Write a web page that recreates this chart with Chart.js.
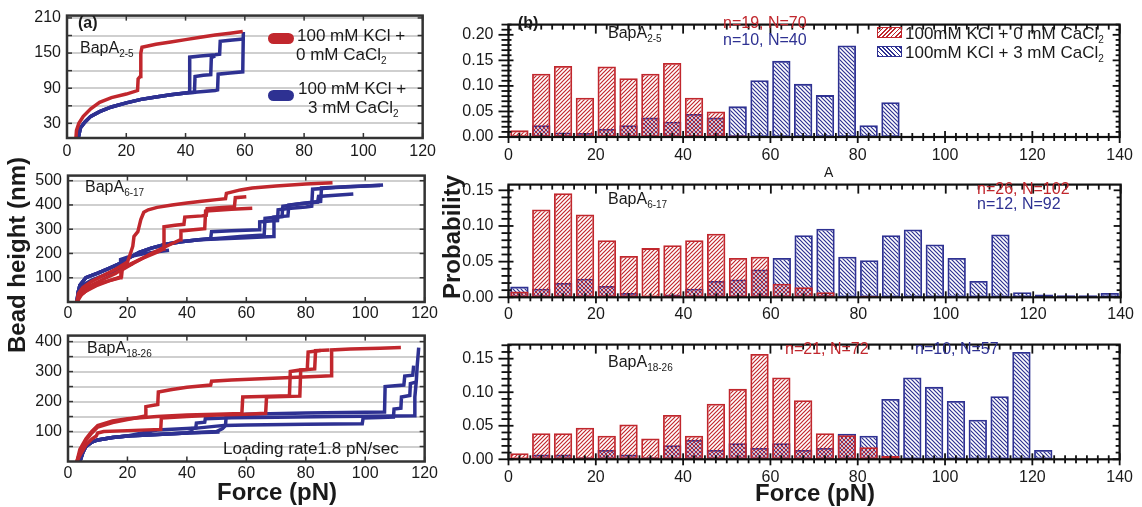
<!DOCTYPE html>
<html>
<head>
<meta charset="utf-8">
<title>BapA unfolding</title>
<script src="https://cdn.jsdelivr.net/npm/chart.js@4.4.1/dist/chart.umd.min.js"></script>
<style>
	body { margin: 0; background: #fff; }
	#fig { position: relative; width: 1142px; height: 507px; overflow: hidden; font-family: "Liberation Sans", Arial, sans-serif; color: #1a1a1a; }
	#fig canvas { position: absolute; }
	.t { position: absolute; white-space: nowrap; line-height: 1; font-size: 16px; transform: translateY(-50%); }
	.t sub { font-size: 10px; vertical-align: -4px; line-height: 0; }
	.b { font-weight: bold; }
	.red { color: #c1272d; }
	.blue { color: #2e3192; }
	.title { position: absolute; font-weight: bold; font-size: 24px; white-space: nowrap; line-height: 1; transform: translate(-50%, -50%); }
	.title.rot { transform: translate(-50%, -50%) rotate(-90deg); }
	.pill { position: absolute; width: 26px; height: 11px; border-radius: 6px; }
	.swatch { position: absolute; width: 23px; height: 9px; }
</style>
</head>
<body>
<div id="fig">
	<canvas id="a1" width="440" height="162" style="left:0;top:0"></canvas>
	<canvas id="a2" width="440" height="166" style="left:0;top:160px"></canvas>
	<canvas id="a3" width="440" height="165" style="left:0;top:320px"></canvas>
	<canvas id="b1" width="702" height="162" style="left:440px;top:0"></canvas>
	<canvas id="b2" width="702" height="162" style="left:440px;top:160px"></canvas>
	<canvas id="b3" width="702" height="164" style="left:440px;top:320px"></canvas>

	<div class="t b" style="left:78px;top:23px">(a)</div>
	<div class="t" style="left:80px;top:48px">BapA<sub>2-5</sub></div>
	<div class="pill" style="left:268px;top:33px;background:#c1272d"></div>
	<div class="t" style="left:297px;top:35px;font-size:17px">100 mM KCl +</div>
	<div class="t" style="left:296px;top:54px;font-size:17px">0 mM CaCl<sub>2</sub></div>
	<div class="pill" style="left:268px;top:90px;background:#2e3192"></div>
	<div class="t" style="left:298px;top:88px;font-size:17px">100 mM KCl +</div>
	<div class="t" style="left:308px;top:107px;font-size:17px">3 mM CaCl<sub>2</sub></div>
	<div class="t" style="left:85px;top:187px">BapA<sub>6-17</sub></div>
	<div class="t" style="left:87px;top:348px">BapA<sub>18-26</sub></div>
	<div class="t" style="left:223px;top:448px;font-size:17px">Loading rate1.8 pN/sec</div>

	<div class="t b" style="left:518px;top:23px">(b)</div>
	<div class="t" style="left:608px;top:33px">BapA<sub>2-5</sub></div>
	<div class="t red" style="left:723px;top:23px">n=19, N=70</div>
	<div class="t blue" style="left:723px;top:40px">n=10, N=40</div>
	<div class="swatch" style="left:877px;top:27px;border:1.5px solid #c1272d;background:repeating-linear-gradient(135deg,#c1272d 0 1.2px,transparent 1.2px 3px)"></div>
	<div class="t" style="left:905px;top:33px;font-size:17px">100mM KCl + 0 mM CaCl<sub>2</sub></div>
	<div class="swatch" style="left:877px;top:46px;border:1.5px solid #2e3192;background:repeating-linear-gradient(45deg,#2e3192 0 1.2px,transparent 1.2px 3px)"></div>
	<div class="t" style="left:905px;top:52px;font-size:17px">100mM KCl + 3 mM CaCl<sub>2</sub></div>
	<div class="t" style="left:608px;top:199px">BapA<sub>6-17</sub></div>
	<div class="t" style="left:824px;top:172px;font-size:14px">A</div>
	<div class="t red" style="left:977px;top:189px">n=26, N=102</div>
	<div class="t blue" style="left:977px;top:204px">n=12, N=92</div>
	<div class="t" style="left:608px;top:362px">BapA<sub>18-26</sub></div>
	<div class="t red" style="left:785px;top:349px">n=21, N=72</div>
	<div class="t blue" style="left:915px;top:349px">n=10, N=57</div>

	<div class="title rot" style="left:17px;top:255px">Bead height (nm)</div>
	<div class="title rot" style="left:452px;top:237px">Probability</div>
	<div class="title" style="left:277px;top:492px">Force (pN)</div>
	<div class="title" style="left:815px;top:493px">Force (pN)</div>
</div>

<script>
const RED = '#c1272d';
const BLUE = '#2e3192';

// tick labels
const forceTicksA = [0, 20, 40, 60, 80, 100, 120];
const forceTicksB = [0, 20, 40, 60, 80, 100, 120, 140];
const heightGridA1 = [30, 60, 90, 120, 150, 180, 210];
const heightLabelsA1 = [30, 90, 150, 210];
const heightGridA2 = [100, 200, 300, 400, 500];
const heightGridA3 = [50, 100, 150, 200, 250, 300, 350, 400];
const heightLabelsA3 = [100, 200, 300, 400];
const probTicks1 = [0, 0.05, 0.10, 0.15, 0.20];
const probTicks23 = [0, 0.05, 0.10, 0.15];

// panel (a) traces, [force pN, bead height nm]
const a1Red = [[3, 5], [3.2, 18], [4, 30], [5.5, 42], [8, 55], [11, 66], [15, 74], [20, 80], [23.8, 86], [24, 106], [24.7, 110], [24.9, 150], [25.3, 160], [30, 165], [35, 169], [40, 173], [45, 177], [50, 181], [55, 184], [59.3, 187]];
const a1BlueBase = [[3.8, 5], [4.5, 22], [6, 32], [8, 42], [11, 50], [15, 58], [20, 65], [25, 71], [30, 75], [35, 79], [40, 82]];
const a1Blue1 = [...a1BlueBase, [41.2, 83], [41.4, 143], [45, 145], [50, 147], [51.5, 148], [51.7, 170], [55, 172], [59.5, 174]];
const a1Blue2 = [...a1BlueBase, [43, 83], [43.2, 110], [46, 112], [48.5, 113], [48.7, 142], [50, 145]];
const a1Blue3 = [...a1BlueBase, [45, 84], [50, 86], [50.8, 87], [51, 114], [55, 116], [59.3, 118], [59.5, 186]];

const a2Red1 = [[3, 0], [3.5, 35], [5, 60], [8, 85], [12, 110], [16, 135], [20, 165], [21, 200], [21.8, 230], [22.2, 270], [23.5, 290], [24.5, 340], [25.5, 370], [27, 380], [30, 390], [35, 400], [40, 408], [45, 415], [50, 422], [53, 426], [53.3, 448], [58, 462], [62, 470], [70, 478], [80, 486], [89, 492]];
const a2Red2 = [[3, 0], [3.8, 30], [5, 50], [8, 70], [12, 95], [16, 118], [20, 150], [25, 180], [30, 205], [32, 218], [32.3, 310], [36, 316], [39, 320], [39.3, 350], [45, 355], [46.5, 357], [46.8, 385], [52, 390], [56, 393], [56.3, 430], [60, 434]];
const a2Red3 = [[3, 0], [4, 25], [6, 45], [10, 70], [14, 88], [17.5, 100], [17.8, 130], [22, 160], [28, 200], [34, 235], [37.8, 257], [38, 293], [44, 300], [46, 302], [46.3, 375], [55, 382], [62, 386]];
const a2Red4 = [[3, 0], [4.5, 30], [7, 55], [11, 78], [15, 92], [18, 104], [18.3, 140], [22, 160]];
const a2BlueBase = [[3, 0], [3.4, 40], [4, 69], [6, 100], [10, 119], [14, 140], [17, 156], [20, 178], [24, 205], [28, 222], [33, 238], [38, 248], [44, 257]];
const a2Blue1 = [[3, 0], [3.5, 40], [5, 70], [8, 90], [12, 110], [15, 125], [17.5, 140], [17.7, 175], [20, 185], [25, 198], [30, 207], [34, 213]];
const a2Blue2 = [...a2BlueBase, [48, 262], [48.3, 290], [55, 294], [62, 297], [64.3, 298], [64.5, 330], [68, 334], [70.5, 336], [70.7, 380], [75, 386], [80, 392], [82, 395], [82.3, 465], [90, 472], [100, 478], [106, 482]];
const a2Blue3 = [...a2BlueBase, [50, 262], [58, 270], [66, 276], [66.3, 345], [72, 352], [72.3, 395], [78, 405], [84, 412], [84.3, 435], [90, 440], [96, 445]];
const a2Blue4 = [...a2BlueBase, [50, 260], [60, 265], [69, 270], [69.3, 350], [74, 355], [74.3, 400], [80, 408], [85, 415], [85.3, 470], [95, 476], [105, 480]];

const a3Red1 = [[3, 0], [4, 30], [6, 70], [8, 95], [10, 115], [15, 130], [20, 140], [26, 152], [26.2, 183], [30.2, 190], [30.4, 232], [35, 240], [40, 248], [48, 255], [48.3, 268], [55, 272], [65, 276], [75, 280], [85, 284], [88.5, 286], [88.7, 372], [95, 375], [105, 378], [112, 380]];
const a3Red2 = [[3, 0], [4, 40], [6, 75], [8, 100], [10, 120], [15, 135], [20, 143], [30, 150], [40, 155], [50, 158], [58.5, 160], [58.8, 215], [65, 217], [74.5, 219], [74.8, 300], [78, 305], [80.5, 307], [80.8, 365], [85, 370]];
const a3Red3 = [[3, 0], [4, 20], [6, 55], [8, 75], [9.5, 85], [10, 95], [12, 100], [20, 103], [31.2, 107], [31.4, 145], [40, 150], [50, 155], [60, 158], [66.5, 161], [66.8, 215], [78, 218], [78.3, 305], [83, 309], [83.3, 370], [88, 372]];
const a3BlueBase = [[4, 0], [5, 30], [6, 50], [8, 65], [10, 72], [15, 80], [20, 85], [30, 90], [40, 95]];
const a3Blue1 = [...a3BlueBase, [51, 98]];
const a3Blue2 = [[4, 0], [5, 30], [6, 50], [8, 65], [10, 72], [15, 80], [20, 85], [25, 95], [30, 105], [40, 110], [43, 112], [43.2, 128], [46, 131], [46.2, 143], [55, 146], [70, 148], [90, 150], [110, 152], [116.5, 153], [116.7, 215], [117.2, 270], [117.5, 320], [118, 380]];
const a3Blue3 = [...a3BlueBase, [41.5, 100], [41.7, 110], [45, 113], [50, 118], [52.5, 120], [60, 122], [80, 124], [99, 126], [99.3, 145], [105, 147], [109.5, 148], [109.7, 175], [112, 178], [112.2, 215], [115, 220], [115.2, 260], [117, 265]];
const a3Blue4 = [...a3BlueBase, [50, 100], [52, 110], [53, 120], [53.2, 150], [60, 158], [80, 162], [100, 164], [106.5, 165], [106.7, 250], [110, 253], [113, 255], [113.3, 285], [116, 288], [116.3, 320]];

// panel (b) histograms, 5 pN bins
const binCenters = [2.5, 7.5, 12.5, 17.5, 22.5, 27.5, 32.5, 37.5, 42.5, 47.5, 52.5, 57.5, 62.5, 67.5, 72.5, 77.5, 82.5, 87.5, 92.5, 97.5, 102.5, 107.5, 112.5, 117.5, 122.5, 127.5, 132.5, 137.5];
const b1Red = [0.013, 0.124, 0.139, 0.077, 0.138, 0.115, 0.124, 0.145, 0.077, 0.050, 0.003, 0, 0, 0, 0, 0, 0, 0, 0, 0, 0, 0, 0, 0, 0, 0, 0, 0];
const b1Blue = [0, 0.023, 0.009, 0.008, 0.016, 0.023, 0.038, 0.030, 0.045, 0.038, 0.060, 0.111, 0.149, 0.104, 0.082, 0.179, 0.023, 0.068, 0, 0, 0, 0, 0, 0, 0, 0, 0, 0];
const b2Red = [0.008, 0.123, 0.146, 0.116, 0.080, 0.058, 0.069, 0.073, 0.080, 0.089, 0.055, 0.057, 0.019, 0.014, 0.007, 0, 0.002, 0, 0, 0, 0, 0, 0, 0, 0, 0, 0, 0];
const b2Blue = [0.015, 0.012, 0.020, 0.026, 0.016, 0.006, 0.001, 0.004, 0.012, 0.023, 0.025, 0.039, 0.055, 0.087, 0.096, 0.057, 0.052, 0.087, 0.095, 0.074, 0.055, 0.023, 0.088, 0.007, 0.004, 0.003, 0.003, 0.006];
const b3Red = [0.009, 0.039, 0.039, 0.047, 0.035, 0.052, 0.031, 0.066, 0.035, 0.083, 0.105, 0.157, 0.122, 0.088, 0.039, 0.036, 0.018, 0.005, 0, 0, 0, 0, 0, 0, 0, 0, 0, 0];
const b3Blue = [0, 0.007, 0.007, 0.003, 0.014, 0.007, 0.003, 0.021, 0.029, 0.014, 0.024, 0.017, 0.024, 0.014, 0.017, 0.038, 0.035, 0.090, 0.122, 0.108, 0.087, 0.059, 0.094, 0.160, 0.014, 0, 0, 0];

Chart.defaults.font.family = '"Liberation Sans", Arial, sans-serif';
Chart.defaults.color = '#1a1a1a';

const minorsOf = (major, div, min, max) => {
	const out = [];

	if (!div || div < 2) {
		return out;
	}

	const step = (major[1] - major[0]) / div;
	const first = Math.ceil(min / step - 1e-6);
	const last = Math.floor(max / step + 1e-6);

	for (let i = first; i <= last; i++) {
		if (i % div !== 0) {
			out.push(i * step);
		}
	}

	return out;
};

// frame box plus tick marks, placed through the chart's own scales
const frameTicks = (spec) => ({
	id: 'frameTicks',
	afterDraw(chart) {
		const ctx = chart.ctx;
		const a = chart.chartArea;
		const sx = chart.scales.x;
		const sy = chart.scales.y;
		const w = spec.tickWidth;

		ctx.save();
		ctx.fillStyle = spec.color;

		const xMarks = (values, len) => {
			values.forEach((v) => {
				const px = sx.getPixelForValue(v);
				ctx.fillRect(px - w / 2, a.bottom - len.bottomIn, w, len.bottomIn + len.bottomOut);
				ctx.fillRect(px - w / 2, a.top, w, len.top);
			});
		};

		const yMarks = (values, len) => {
			values.forEach((v) => {
				const py = sy.getPixelForValue(v);
				ctx.fillRect(a.left - len.leftOut, py - w / 2, len.leftIn + len.leftOut, w);

				if (len.right) {
					ctx.fillRect(a.right - len.right, py - w / 2, len.right, w);
				}
			});
		};

		xMarks(spec.xMajor, spec.major);
		xMarks(minorsOf(spec.xMajor, spec.xDiv, sx.min, sx.max), spec.minor);
		yMarks(spec.yMajor, spec.major);
		yMarks(minorsOf(spec.yMajor, spec.yDiv, sy.min, sy.max), spec.minor);

		ctx.strokeStyle = spec.color;
		ctx.lineWidth = spec.frameWidth;
		ctx.strokeRect(a.left, a.top, a.right - a.left, a.bottom - a.top);
		ctx.restore();
	},
});

const hatch = (color, rising) => {
	const gap = 4;
	const tile = document.createElement('canvas');
	tile.width = gap;
	tile.height = gap;
	const g = tile.getContext('2d');
	g.strokeStyle = color;
	g.lineWidth = 1.2;
	g.beginPath();

	if (rising) {
		g.moveTo(0, gap); g.lineTo(gap, 0);
		g.moveTo(-1, 1); g.lineTo(1, -1);
		g.moveTo(gap - 1, gap + 1); g.lineTo(gap + 1, gap - 1);
	} else {
		g.moveTo(0, 0); g.lineTo(gap, gap);
		g.moveTo(gap - 1, -1); g.lineTo(gap + 1, 1);
		g.moveTo(-1, gap - 1); g.lineTo(1, gap + 1);
	}

	g.stroke();
	return g.createPattern(tile, 'repeat');
};

const fixedAxes = (yWidth, xHeight) => ({
	x: (s) => { s.height = xHeight; },
	y: (s) => { s.width = yWidth; },
});

const tracePanel = (id, box, yRange, yGrid, yLabels, reds, blues) => {
	const fit = fixedAxes(box.yWidth, box.xHeight);
	const line = (data, color) => ({
		data,
		borderColor: color,
		borderWidth: 3.5,
		pointRadius: 0,
		tension: 0,
		fill: false,
	});
	const inward = { bottomIn: 5, bottomOut: 0, top: 5, leftIn: 5, leftOut: 0, right: 5 };

	return new Chart(document.getElementById(id), {
		type: 'line',
		data: {
			datasets: [...reds.map((d) => line(d, RED)), ...blues.map((d) => line(d, BLUE))],
		},
		options: {
			responsive: false,
			animation: false,
			events: [],
			layout: { padding: { top: box.top, right: box.right, left: 0, bottom: 0 } },
			plugins: {
				legend: { display: false },
				tooltip: { enabled: false },
			},
			scales: {
				x: {
					type: 'linear', min: 0, max: 120,
					afterBuildTicks: (s) => { s.ticks = forceTicksA.map((value) => ({ value })); },
					afterFit: fit.x,
					grid: { display: false, drawTicks: false },
					border: { display: false },
					ticks: { padding: box.xPad, maxRotation: 0, autoSkip: false, font: { size: 16 } },
				},
				y: {
					type: 'linear', min: yRange[0], max: yRange[1],
					afterBuildTicks: (s) => { s.ticks = yGrid.map((value) => ({ value })); },
					afterFit: fit.y,
					grid: { color: '#cfcfcf', lineWidth: 2, drawTicks: false },
					border: { display: false },
					ticks: {
						padding: 6, autoSkip: false, font: { size: 16 },
						callback: (v) => (yLabels.includes(v) ? String(v) : ''),
					},
				},
			},
		},
		plugins: [frameTicks({
			color: '#333', tickWidth: 1.5, frameWidth: 2.5,
			major: inward, minor: inward,
			xMajor: forceTicksA, xDiv: 1, yMajor: yGrid, yDiv: 1,
		})],
	});
};

const histPanel = (id, box, yMax, yTicks, red, blue) => {
	const fit = fixedAxes(box.yWidth, box.xHeight);
	const bars = (values, color, rising) => ({
		data: binCenters.map((x, i) => ({ x, y: values[i] || null })),
		backgroundColor: hatch(color, rising),
		borderColor: color,
		borderWidth: 1.8,
		borderSkipped: false,
		grouped: false,
		barPercentage: 0.84,
		categoryPercentage: 1,
	});

	return new Chart(document.getElementById(id), {
		type: 'bar',
		data: {
			datasets: [bars(red, RED, true), bars(blue, BLUE, false)],
		},
		options: {
			responsive: false,
			animation: false,
			events: [],
			layout: { padding: { top: box.top, right: box.right, left: 0, bottom: 0 } },
			plugins: {
				legend: { display: false },
				tooltip: { enabled: false },
			},
			scales: {
				x: {
					type: 'linear', min: 0, max: 140, offset: false,
					afterBuildTicks: (s) => { s.ticks = forceTicksB.map((value) => ({ value })); },
					afterFit: fit.x,
					grid: { display: false, drawTicks: false },
					border: { display: false },
					ticks: { padding: box.xPad, maxRotation: 0, autoSkip: false, font: { size: 16 } },
				},
				y: {
					type: 'linear', min: 0, max: yMax,
					afterBuildTicks: (s) => { s.ticks = yTicks.map((value) => ({ value })); },
					afterFit: fit.y,
					grid: { display: false, drawTicks: false },
					border: { display: false },
					ticks: { padding: 15, autoSkip: false, font: { size: 16 }, callback: (v) => v.toFixed(2) },
				},
			},
		},
		plugins: [frameTicks({
			color: '#111', tickWidth: 1.8, frameWidth: 2.2,
			major: { bottomIn: 6, bottomOut: 6, top: 9, leftIn: 5, leftOut: 10, right: 7 },
			minor: { bottomIn: 4, bottomOut: 4, top: 5, leftIn: 3, leftOut: 7, right: 4 },
			xMajor: forceTicksB, xDiv: 8, yMajor: yTicks, yDiv: 5,
		})],
	});
};

tracePanel('a1', { yWidth: 67, xHeight: 24, top: 9, right: 9, xPad: 4 }, [5, 214], heightGridA1, heightLabelsA1, [a1Red], [a1Blue1, a1Blue2, a1Blue3]);
tracePanel('a2', { yWidth: 68, xHeight: 24, top: 6, right: 12, xPad: 2 }, [0, 521], heightGridA2, heightGridA2, [a2Red1, a2Red2, a2Red3, a2Red4], [a2Blue1, a2Blue2, a2Blue3, a2Blue4]);
tracePanel('a3', { yWidth: 68, xHeight: 23.5, top: 7, right: 12, xPad: 2 }, [0, 420], heightGridA3, heightLabelsA3, [a3Red1, a3Red2, a3Red3], [a3Blue1, a3Blue2, a3Blue3, a3Blue4]);

histPanel('b1', { yWidth: 68.5, xHeight: 25, top: 6, right: 8, xPad: 9 }, 0.22, probTicks1, b1Red, b1Blue);
histPanel('b2', { yWidth: 68.5, xHeight: 24.7, top: 10, right: 8, xPad: 8 }, 0.158, probTicks23, b2Red, b2Blue);
histPanel('b3', { yWidth: 68.5, xHeight: 24.7, top: 9.3, right: 8, xPad: 9 }, 0.171, probTicks23, b3Red, b3Blue);
</script>
</body>
</html>
